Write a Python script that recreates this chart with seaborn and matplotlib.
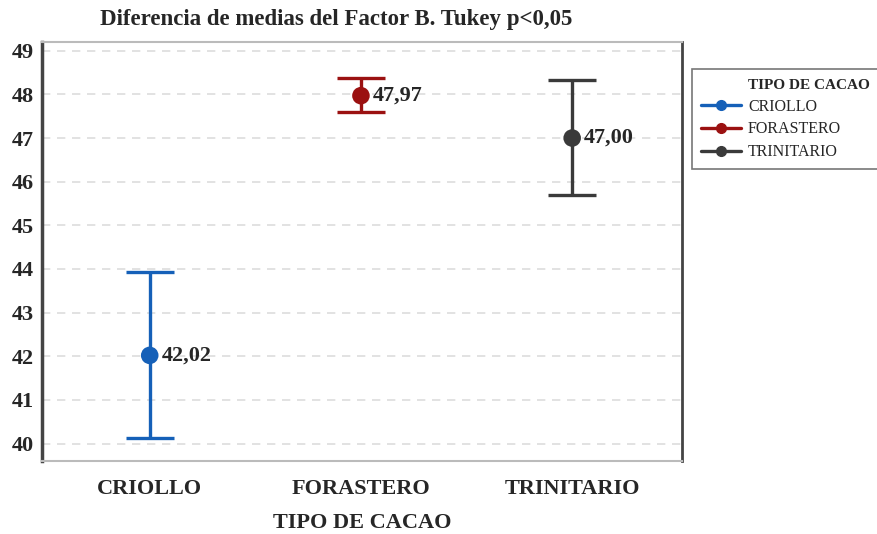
import pandas as pd
import matplotlib.pyplot as plt
import seaborn as sns
from matplotlib.lines import Line2D

# Data
tipos = ["CRIOLLO", "FORASTERO", "TRINITARIO"]
medias = [42.02, 47.97, 47.00]
inferior = [40.13, 47.60, 45.70]
superior = [43.92, 48.38, 48.32]
colores = ["#1560b8", "#9b1111", "#3a3a3a"]
yticks = list(range(40, 50))

sns.set_style("white")
plt.rcParams['font.family'] = ['Liberation Serif', 'DejaVu Serif']

df = pd.DataFrame({'tipo': tipos, 'media': medias,
                   'inf': inferior, 'sup': superior})

fig = plt.figure(figsize=(8.78, 5.34), dpi=100)
ax = fig.add_axes([42 / 878, 1 - 461 / 534, 640 / 878, 419 / 534])

# error bars (Tukey intervals)
for i, row in df.iterrows():
    ax.errorbar(i, row['media'],
                yerr=[[row['media'] - row['inf']], [row['sup'] - row['media']]],
                fmt='none', ecolor=colores[i], elinewidth=2.4,
                capsize=17, capthick=2.4, zorder=2)

sns.scatterplot(data=df, x='tipo', y='media', hue='tipo', palette=colores,
                s=160, edgecolor='none', legend=False, ax=ax, zorder=3)

for i, row in df.iterrows():
    ax.text(i + 0.055, row['media'], f"{row['media']:.2f}".replace('.', ','),
            fontsize=16, fontweight='bold', va='center', ha='left')

ax.set_xlim(-0.51, 2.52)
ax.set_ylim(39.6, 49.2)
ax.set_yticks(yticks)
ax.set_yticklabels([str(t) for t in yticks], fontsize=16, fontweight='bold')
ax.set_xticks(range(3))
ax.set_xticklabels(tipos, fontsize=16, fontweight='bold')
ax.grid(axis='y', linestyle=(0, (5, 4)), color='#dddddd', linewidth=1.2)
ax.set_axisbelow(True)
ax.tick_params(axis='y', length=4, width=1.5, color='#333333', pad=2)
ax.tick_params(axis='x', length=4, width=1, color='#bbbbbb', pad=9)

ax.spines['left'].set_color('#444444')
ax.spines['left'].set_linewidth(2.5)
ax.spines['right'].set_color('#444444')
ax.spines['right'].set_linewidth(2)
ax.spines['top'].set_color('#bbbbbb')
ax.spines['top'].set_linewidth(1.5)
ax.spines['bottom'].set_color('#bbbbbb')
ax.spines['bottom'].set_linewidth(1.5)

ax.set_xlabel("TIPO DE CACAO", fontsize=16, fontweight='bold', labelpad=10)
ax.set_ylabel("")

fig.text(336 / 878, 1 - 20 / 534, "Diferencia de medias del Factor B. Tukey p<0,05",
         fontsize=16.5, fontweight='bold', ha='center', va='center')

# legend: title sits in the label column, so use an invisible first entry
handles = [Line2D([], [], color='none')] + \
    [Line2D([0], [0], color=c, lw=2.4, marker='o', markersize=7) for c in colores]
labels = ["TIPO DE CACAO"] + tipos
leg = fig.legend(handles, labels, loc='upper left',
                 bbox_to_anchor=(692 / 878, 1 - 69 / 534), fontsize=11.5,
                 frameon=True, fancybox=False, edgecolor='#555555',
                 handlelength=2.5, handletextpad=0.45, labelspacing=0.42,
                 borderpad=0.55, borderaxespad=0)
leg.get_texts()[0].set_fontweight('bold')
leg.get_texts()[0].set_fontsize(11)
leg.get_frame().set_linewidth(1.2)

plt.savefig("out.png", dpi=100)
